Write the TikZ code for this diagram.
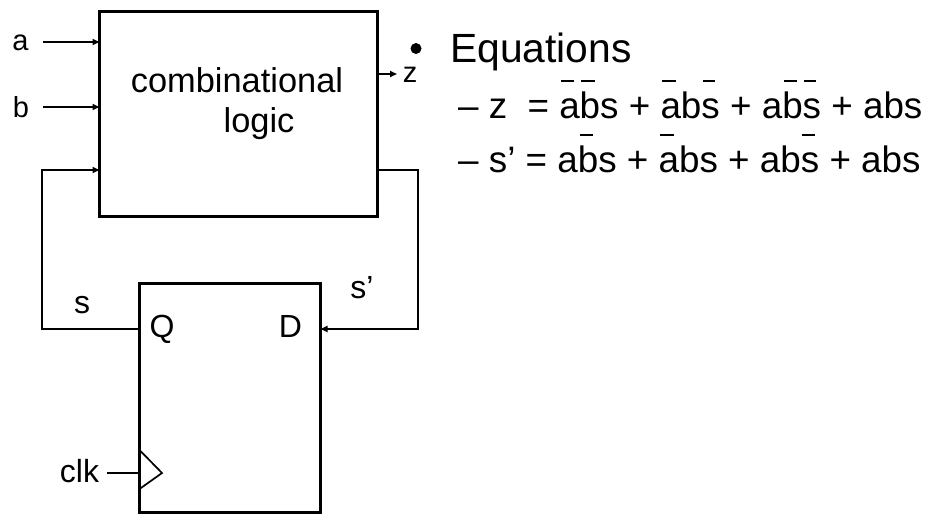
\documentclass[tikz,border=0pt]{standalone}
\usepackage{fontspec}
\setmainfont{Liberation Sans}
\usetikzlibrary{arrows.meta}
\newcommand\ovb[1]{\sbox0{#1}\rlap{\kern0.08\wd0\rule[0.97em]{0.66\wd0}{0.055em}}\usebox0}
\begin{document}
\begin{tikzpicture}[x=1pt,y=-1pt,
  blk/.style={draw,line width=2.4pt,inner sep=0pt,outer sep=0pt},
  wire/.style={line width=1.7pt},
  arr/.style={wire,-{Triangle[length=7pt,width=6pt]}},
  lbl/.style={anchor=base,inner sep=0pt,font=\fontsize{29}{29}\selectfont},
  plbl/.style={anchor=base,inner sep=0pt,font=\fontsize{32}{32}\selectfont}]
\useasboundingbox (0,0) rectangle (933,515);
% blocks
\node[blk,minimum width=278pt,minimum height=205pt] (comb) at (238.5,114) {};
\node[blk,minimum width=181pt,minimum height=229pt] (ff) at (230,398) {};
% block texts
\node[anchor=base,inner sep=0pt,font=\fontsize{34.4}{34.4}\selectfont] (t1) at (237,92) {combinational};
\node[anchor=base,inner sep=0pt,font=\fontsize{34.4}{34.4}\selectfont] (t2) at (259,132) {logic};
\node[plbl] (q) at (162,337) {Q};
\node[plbl] (d) at (290.5,337) {D};
% signal labels
\node[lbl] (la) at (20.5,50) {a};
\node[lbl] (lb) at (21,117) {b};
\node[lbl] (lz) at (410,82) {z};
\node[plbl] (ls) at (82,313) {s};
\node[plbl] (lsp) at (362,298) {s’};
\node[plbl] (lclk) at (79.5,482) {clk};
% wire endpoints
\coordinate (ain) at (43,42);
\coordinate (bin) at (43,107);
\coordinate (zout) at (397,74);
\coordinate (fbl) at (42,329);
\coordinate (fbr) at (418,170);
\coordinate (clkin) at (107,473);
% wires
\draw[arr] (ain) -- (ain -| comb.west);
\draw[arr] (bin) -- (bin -| comb.west);
\draw[arr] (comb.east |- zout) -- (zout);
\draw[arr] (ff.west |- fbl) -- (fbl) |- (comb.west |- 0,170);
\draw[arr] (comb.east |- fbr) -| (418,329) -- (ff.east |- 0,329);
\draw[wire] (clkin) -- (clkin -| ff.west);
\draw[wire,line join=miter] (ff.west |- 0,450) -- (162,473) -- (ff.west |- 0,489);
% equations
\fill (416,48.5) circle (5.5pt);
\node[anchor=base west,inner sep=0pt,font=\fontsize{40.8}{40.8}\selectfont] (eq) at (450,62.3) {Equations};
\node[anchor=base west,inner sep=0pt,font=\fontsize{36.8}{36.8}\selectfont] (e1) at (458,118)
  {– z\hspace{0.55em}= \ovb{a}\ovb{b}s + \ovb{a}b\ovb{s} + a\ovb{b}\ovb{s} + abs};
\node[anchor=base west,inner sep=0pt,font=\fontsize{36.8}{36.8}\selectfont] (e2) at (458,172)
  {– s’ = a\ovb{b}s + \ovb{a}bs + ab\ovb{s} + abs};
\end{tikzpicture}
\end{document}
